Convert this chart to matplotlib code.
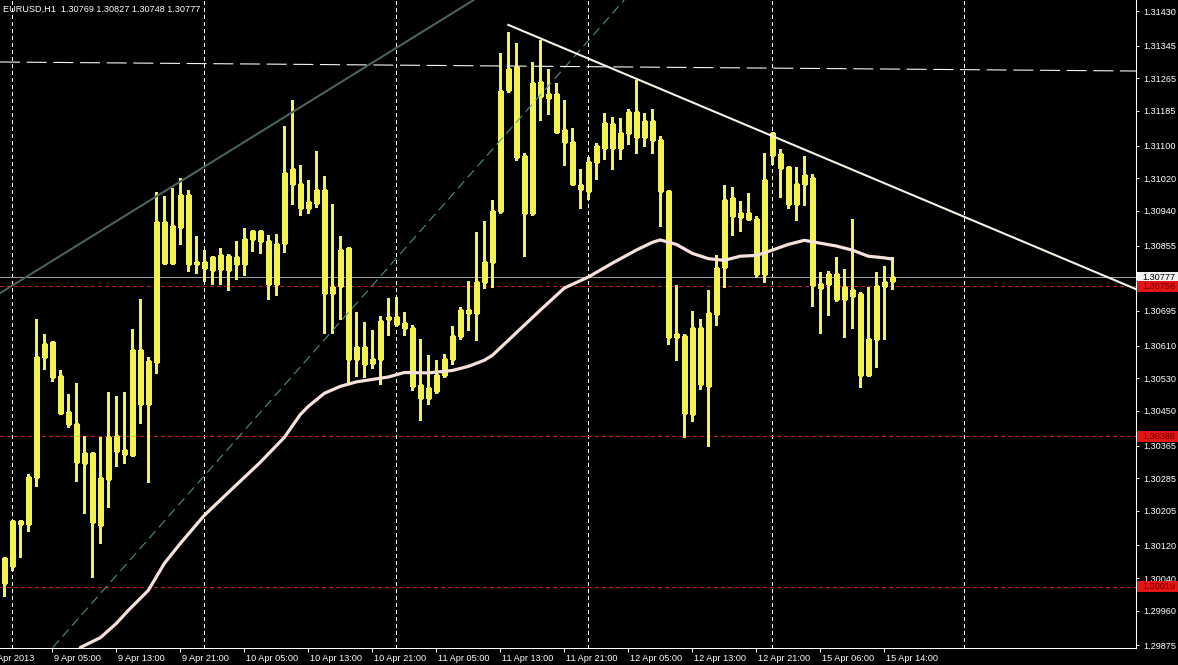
import matplotlib
matplotlib.use("Agg")
import matplotlib.pyplot as plt
import matplotlib.transforms as mtransforms
from matplotlib.patches import Rectangle

# EURUSD H1 candles, bar 0 = 8 Apr 2013 23:00
opens = [1.30028, 1.30069, 1.30179, 1.30173, 1.30287, 1.30581, 1.30618, 1.30535, 1.30446, 1.30419,
         1.30322, 1.30347, 1.30171, 1.30284, 1.30388, 1.30355, 1.30343, 1.30598, 1.30468, 1.30570,
         1.30912, 1.30813, 1.30901, 1.30980, 1.30814, 1.30814, 1.30796, 1.30831, 1.30796, 1.30828,
         1.30811, 1.30870, 1.30890, 1.30867, 1.30762, 1.30862, 1.31042, 1.31007, 1.30948, 1.30960,
         1.30991, 1.30740, 1.30756, 1.30848, 1.30578, 1.30607, 1.30567, 1.30576, 1.30674, 1.30679,
         1.30666, 1.30654, 1.30514, 1.30481, 1.30499, 1.30537, 1.30578, 1.30633, 1.30696, 1.30690,
         1.30766, 1.30816, 1.30941, 1.31236, 1.31292, 1.31074, 1.30934, 1.31255, 1.31218, 1.31226,
         1.31138, 1.31110, 1.31003, 1.30989, 1.31059, 1.31095, 1.31152, 1.31095, 1.31131, 1.31182,
         1.31122, 1.31160, 1.31115, 1.30989, 1.30638, 1.30633, 1.30443, 1.30652, 1.30511, 1.30688,
         1.30803, 1.30971, 1.30925, 1.30936, 1.30921, 1.30785, 1.31130, 1.31079, 1.31047, 1.30958,
         1.31005, 1.31020, 1.30752, 1.30762, 1.30785, 1.30723, 1.30746, 1.30736, 1.30537, 1.30627,
         1.30755, 1.30769]
highs = [1.30090, 1.30179, 1.30179, 1.30296, 1.30674, 1.30639, 1.30621, 1.30551, 1.30491, 1.30518,
         1.30389, 1.30347, 1.30386, 1.30496, 1.30486, 1.30495, 1.30650, 1.30724, 1.30582, 1.30986,
         1.30976, 1.30997, 1.31020, 1.30991, 1.30878, 1.30845, 1.30829, 1.30848, 1.30834, 1.30866,
         1.30899, 1.30893, 1.30893, 1.30880, 1.30883, 1.31148, 1.31213, 1.31052, 1.31015, 1.31086,
         1.31025, 1.30957, 1.30878, 1.30850, 1.30692, 1.30668, 1.30649, 1.30683, 1.30727, 1.30729,
         1.30692, 1.30660, 1.30625, 1.30586, 1.30574, 1.30590, 1.30657, 1.30705, 1.30768, 1.30889,
         1.30915, 1.30968, 1.31326, 1.31378, 1.31351, 1.31082, 1.31306, 1.31359, 1.31287, 1.31254,
         1.31213, 1.31144, 1.31042, 1.31073, 1.31107, 1.31181, 1.31171, 1.31169, 1.31190, 1.31261,
         1.31181, 1.31191, 1.31123, 1.30990, 1.30758, 1.30639, 1.30694, 1.30674, 1.30746, 1.30833,
         1.31003, 1.30998, 1.30964, 1.30983, 1.30927, 1.31081, 1.31134, 1.31091, 1.31048, 1.31048,
         1.31074, 1.31030, 1.30790, 1.30792, 1.30827, 1.30797, 1.30920, 1.30741, 1.30754, 1.30790,
         1.30804, 1.30827]
lows = [1.29995, 1.30059, 1.30091, 1.30155, 1.30266, 1.30552, 1.30523, 1.30443, 1.30410, 1.30278,
        1.30199, 1.30044, 1.30126, 1.30214, 1.30315, 1.30322, 1.30340, 1.30421, 1.30275, 1.30543,
        1.30809, 1.30810, 1.30858, 1.30793, 1.30787, 1.30768, 1.30760, 1.30762, 1.30746, 1.30772,
        1.30782, 1.30842, 1.30837, 1.30725, 1.30733, 1.30840, 1.30958, 1.30930, 1.30935, 1.30950,
        1.30641, 1.30641, 1.30674, 1.30521, 1.30535, 1.30533, 1.30554, 1.30517, 1.30635, 1.30657,
        1.30635, 1.30500, 1.30427, 1.30468, 1.30494, 1.30533, 1.30566, 1.30625, 1.30647, 1.30623,
        1.30750, 1.30754, 1.30935, 1.31232, 1.31065, 1.30829, 1.30930, 1.31164, 1.31177, 1.31131,
        1.31052, 1.31006, 1.30947, 1.30969, 1.31018, 1.31068, 1.31043, 1.31068, 1.31104, 1.31082,
        1.31099, 1.31082, 1.30903, 1.30615, 1.30574, 1.30387, 1.30424, 1.30503, 1.30363, 1.30660,
        1.30754, 1.30881, 1.30891, 1.30918, 1.30777, 1.30766, 1.31056, 1.30974, 1.30946, 1.30917,
        1.30954, 1.30707, 1.30641, 1.30684, 1.30720, 1.30631, 1.30652, 1.30508, 1.30535, 1.30557,
        1.30627, 1.30748]
closes = [1.30090, 1.30179, 1.30173, 1.30287, 1.30581, 1.30615, 1.30533, 1.30445, 1.30419, 1.30324,
          1.30347, 1.30177, 1.30286, 1.30386, 1.30351, 1.30345, 1.30598, 1.30468, 1.30573, 1.30912,
          1.30813, 1.30903, 1.30980, 1.30811, 1.30810, 1.30801, 1.30826, 1.30798, 1.30829, 1.30811,
          1.30870, 1.30891, 1.30867, 1.30762, 1.30860, 1.31034, 1.31007, 1.30948, 1.30963, 1.30991,
          1.30740, 1.30754, 1.30845, 1.30578, 1.30607, 1.30566, 1.30576, 1.30670, 1.30681, 1.30664,
          1.30654, 1.30511, 1.30481, 1.30507, 1.30537, 1.30578, 1.30633, 1.30696, 1.30690, 1.30766,
          1.30816, 1.30941, 1.31235, 1.31287, 1.31073, 1.30935, 1.31253, 1.31222, 1.31226, 1.31134,
          1.31109, 1.31007, 1.30993, 1.31059, 1.31099, 1.31155, 1.31095, 1.31132, 1.31182, 1.31122,
          1.31160, 1.31115, 1.30989, 1.30631, 1.30631, 1.30445, 1.30652, 1.30517, 1.30691, 1.30801,
          1.30968, 1.30928, 1.30936, 1.30921, 1.30785, 1.31017, 1.31077, 1.31046, 1.30958, 1.31007,
          1.31028, 1.30758, 1.30762, 1.30785, 1.30723, 1.30754, 1.30732, 1.30537, 1.30627, 1.30755,
          1.30767, 1.30777]

# moving average (bar index, price)
ma_bars = [9.5, 12, 14, 15.5, 18, 20, 22, 25, 28, 32, 35, 37, 38, 40, 42, 44, 48, 50, 53, 56,
           58, 60, 61, 63, 65, 67, 70, 73, 76, 79, 81, 82, 84, 86, 88, 90, 92, 94, 96, 98,
           100, 102, 104, 106, 108, 110, 111]
ma_vals = [1.29870, 1.29894, 1.29929, 1.29961, 1.30010, 1.30076, 1.30125, 1.30194, 1.30250, 1.30324,
           1.30385, 1.30441, 1.30461, 1.30493, 1.30510, 1.30521, 1.30533, 1.30544, 1.30543, 1.30549,
           1.30559, 1.30574, 1.30586, 1.30623, 1.30660, 1.30697, 1.30751, 1.30778, 1.30812, 1.30844,
           1.30863, 1.30869, 1.30858, 1.30836, 1.30823, 1.30819, 1.30829, 1.30831, 1.30844, 1.30858,
           1.30868, 1.30861, 1.30854, 1.30844, 1.30829, 1.30825, 1.30822]

# hand drawn objects: (bar, price) anchor pairs
channel_line = [(0, 1.30745), (22, 1.31012)]
support_line = [(44, 1.30713), (67, 1.31224)]
resist_line = [(63, 1.31396), (141.5, 1.30748)]
top_dash_line = [(0, 1.31305), (141, 1.31283)]
level_lines = [1.30756, 1.30388, 1.30019]
bid_price = 1.30777

first_label = (-2, "9 Apr 2013")
label_bars = [6, 14, 22, 30, 38, 46, 54, 62, 70, 78, 86, 94, 102, 110]
label_texts = ["9 Apr 05:00", "9 Apr 13:00", "9 Apr 21:00", "10 Apr 05:00",
               "10 Apr 13:00", "10 Apr 21:00", "11 Apr 05:00", "11 Apr 13:00", "11 Apr 21:00",
               "12 Apr 05:00", "12 Apr 13:00", "12 Apr 21:00", "15 Apr 06:00", "15 Apr 14:00"]
day_bars = [1, 25, 49, 73, 96, 120]
price_ticks = [1.31430, 1.31345, 1.31265, 1.31185, 1.31100, 1.31020, 1.30940, 1.30855, 1.30695,
               1.30610, 1.30530, 1.30450, 1.30365, 1.30285, 1.30205, 1.30120, 1.30040, 1.29960,
               1.29875]

plt.rcParams['font.family'] = ['Liberation Sans', 'DejaVu Sans']
plt.rcParams['font.size'] = 6.6

W, H = 1178, 665
fig = plt.figure(figsize=(W / 100, H / 100), dpi=100, facecolor='black')
ax = fig.add_axes([0, 17.5 / H, 1136 / W, 647.5 / H])
ax.set_facecolor('black')

yel = '#f2f250'
bear_fill = '#ffffb8'

# day separators
for d in day_bars:
    ax.axvline(d, color='white', lw=0.72, ls=(0, (3, 3)), antialiased=False, zorder=1)

for lv in level_lines:
    ax.axhline(lv, color='#c41c1c', lw=0.72, ls=(0, (4, 3)), antialiased=False, zorder=1)
ax.axhline(bid_price, color='#9a9a9a', lw=0.72, antialiased=False, zorder=1)

# candles
bars = list(range(len(opens)))
ax.vlines(bars, lows, highs, color=yel, lw=0.75, antialiased=False, zorder=2)
for b in bars:
    o, c = opens[b], closes[b]
    bottom = min(o, c)
    height = max(abs(c - o), 0.00003)
    face = 'black' if c > o else bear_fill
    ax.add_patch(Rectangle((b - 0.22, bottom), 0.44, height, facecolor=face,
                           edgecolor=yel, lw=0.75, antialiased=False, zorder=3))

# moving average
ax.plot(ma_bars, ma_vals, color='#f6e2da', lw=2.3, solid_capstyle='round', zorder=4)

# trend lines
ax.axline(channel_line[0], channel_line[1], color='#4a625c', lw=1.5, zorder=4)
ax.axline(support_line[0], support_line[1], color='#4f9696', lw=0.75, ls=(0, (9, 5)), zorder=4)
ax.plot([p[0] for p in resist_line], [p[1] for p in resist_line], color='#f4f2e4', lw=1.5, zorder=5)
ax.axline(top_dash_line[0], top_dash_line[1], color='#f4f4f4', lw=0.8, ls=(0, (18, 6)), zorder=4)

# axes styling
for s in ['top', 'left']:
    ax.spines[s].set_visible(False)
for s in ['right', 'bottom']:
    ax.spines[s].set_color('white')
    ax.spines[s].set_linewidth(0.75)

ax.yaxis.tick_right()
ax.set_yticks(price_ticks)
ax.set_yticklabels([f'{v:.5f}' for v in price_ticks])
ax.tick_params(axis='y', colors='white', direction='out', length=2.5, width=0.75, pad=3)

ax.set_xticks(label_bars)
ax.set_xticklabels(label_texts, ha='left')
ax.tick_params(axis='x', colors='white', direction='out', length=3, width=0.75, pad=1.5)
shift = mtransforms.ScaledTranslation(2 / 100, 0, fig.dpi_scale_trans)
for lab in ax.get_xticklabels():
    lab.set_transform(lab.get_transform() + shift)

# limits after ticks so the tick list does not widen the view
ax.set_xlim(-0.54, 141.46)
ax.set_ylim(1.29870, 1.31457)

# leftmost date label, partly off the chart
lab0 = ax.get_xticklabels()[0]
ax.text(first_label[0], lab0.get_position()[1], first_label[1], color='white', ha='left',
        va='top', transform=mtransforms.blended_transform_factory(ax.transData, ax.transAxes)
        + mtransforms.ScaledTranslation(2 / 100, -6.2 / 100, fig.dpi_scale_trans),
        clip_on=False)

# price boxes on the right
box_tr = mtransforms.blended_transform_factory(ax.transAxes, ax.transData)
x0 = 1.0 + 1 / 1136
bw = (W - 1137) / 1136
bh = 0.00027
ax.add_patch(Rectangle((x0, bid_price - bh / 2), bw, bh, transform=box_tr, facecolor='#f2f2f2',
                       edgecolor='none', clip_on=False, zorder=6))
ax.text(1.0 + 6 / 1136, bid_price, f'{bid_price:.5f}', transform=box_tr, color='black',
        va='center', ha='left', zorder=7, clip_on=False)
for lv in level_lines:
    ax.add_patch(Rectangle((x0, lv - bh / 2), bw, bh, transform=box_tr, facecolor='#e41414',
                           edgecolor='none', clip_on=False, zorder=8))
    ax.text(1.0 + 6 / 1136, lv, f'{lv:.5f}', transform=box_tr, color='#6a0000',
            va='center', ha='left', zorder=9, clip_on=False)

fig.text(3 / W, 1 - 9.5 / H, 'EURUSD,H1  1.30769 1.30827 1.30748 1.30777', color='white',
         ha='left', va='center')

fig.savefig('out.png', dpi=100, facecolor='black')
